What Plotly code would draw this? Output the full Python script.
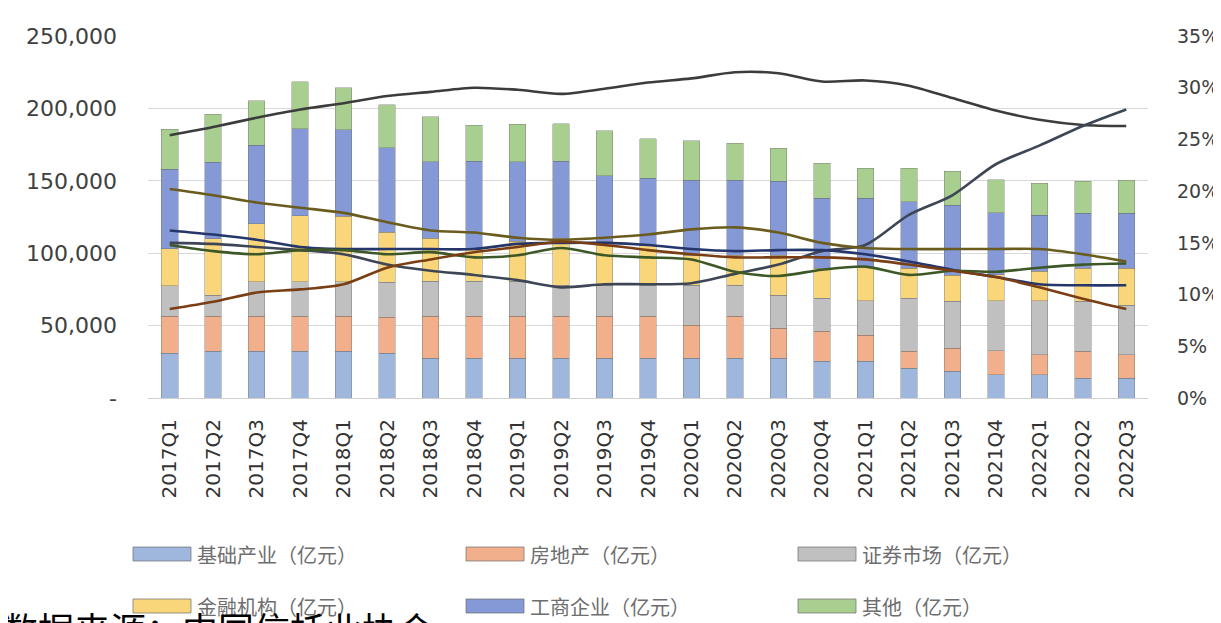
import plotly.graph_objects as go

quarters = ["2017Q1","2017Q2","2017Q3","2017Q4","2018Q1","2018Q2","2018Q3","2018Q4",
            "2019Q1","2019Q2","2019Q3","2019Q4","2020Q1","2020Q2","2020Q3","2020Q4",
            "2021Q1","2021Q2","2021Q3","2021Q4","2022Q1","2022Q2","2022Q3"]

# stacked bars (亿元)
infra   = [31000,32400,32400,32400,32400,31000,27600,27600,27600,27600,27600,27600,27600,27600,27600,25500,25500,20700,18600,15900,15900,13800,13800]
realest = [25500,24000,24000,24000,24000,24800,29000,29000,29000,29000,29000,29000,22800,29000,20700,20700,18000,11700,15900,16600,13800,18600,15900]
secur   = [21000,14500,24000,24000,24000,24000,24000,24000,24000,21400,21400,21400,27600,21400,22800,22800,23500,36600,32400,34500,37300,34500,34500]
finance = [25500,39000,40000,45500,45000,34500,29700,22800,27600,32400,30000,27600,20700,20700,27600,20700,22800,20700,18000,18000,20700,22800,25500]
commerce= [55000,53000,54000,60000,60000,58600,53000,60000,55000,53000,45500,46000,51800,51800,51000,48300,48300,46000,48300,42800,38600,38000,38000]
others  = [27600,33000,31000,32400,29000,29700,31000,24800,26000,26000,31000,27600,27000,25500,22800,24000,20700,22800,23500,22800,22000,22000,22800]

bar_names = ["基础产业（亿元）","房地产（亿元）","证券市场（亿元）","金融机构（亿元）","工商企业（亿元）","其他（亿元）"]
bar_values = [infra, realest, secur, finance, commerce, others]
bar_colors = ["#9FB7DD","#F1B08B","#C0C0C0","#F9D67A","#8499D6","#A9CF90"]

# shares (%) on secondary axis
share_a = [25.4,26.2,27.1,27.9,28.5,29.2,29.6,30.0,29.8,29.4,29.9,30.5,30.9,31.5,31.4,30.6,30.7,30.2,29.0,27.8,26.9,26.4,26.3]
share_b = [15.0,14.9,14.6,14.3,13.9,12.9,12.3,11.9,11.4,10.7,11.0,11.0,11.1,12.0,12.9,14.2,14.8,17.7,19.6,22.6,24.4,26.3,27.9]
share_c = [20.2,19.6,18.9,18.4,17.9,17.0,16.2,16.0,15.5,15.3,15.5,15.8,16.3,16.5,16.0,15.0,14.5,14.4,14.4,14.4,14.4,13.9,13.2]
share_d = [16.2,15.8,15.3,14.6,14.4,14.4,14.4,14.4,14.9,15.0,15.0,14.8,14.4,14.2,14.3,14.3,13.9,13.2,12.4,11.7,11.0,10.9,10.9]
share_e = [14.8,14.2,13.9,14.3,14.3,13.9,14.1,13.6,13.8,14.5,13.8,13.6,13.4,12.2,11.8,12.4,12.7,11.9,12.3,12.2,12.6,12.9,13.0]
share_f = [8.6,9.3,10.2,10.5,11.0,12.6,13.4,14.1,14.6,15.1,14.8,14.3,13.9,13.6,13.6,13.6,13.4,12.9,12.3,11.7,10.7,9.6,8.6]

line_values = [share_a, share_b, share_c, share_d, share_e, share_f]
line_colors = ["#3C3C3C","#3E4656","#6A5C1E","#24366A","#3D5826","#7A3E14"]

left_ticks = [0, 50000, 100000, 150000, 200000, 250000]
left_text = ["-", "50,000", "100,000", "150,000", "200,000", "250,000"]
right_ticks = [0, 5, 10, 15, 20, 25, 30, 35]
right_text = [f"{v}%" for v in right_ticks]

fig = go.Figure()
for name, vals, col in zip(bar_names, bar_values, bar_colors):
    fig.add_trace(go.Bar(x=quarters, y=vals, name=name, marker_color=col,
                         marker_line=dict(width=0.8, color="rgba(110,110,110,0.5)"),
                         showlegend=False))
for vals, col in zip(line_values, line_colors):
    fig.add_trace(go.Scatter(x=quarters, y=vals, yaxis="y2", mode="lines",
                             line=dict(color=col, width=2.6, shape="spline", smoothing=0.8),
                             showlegend=False))

# geometry helpers (pixels -> paper)
L, R, T, B = 140, 1140, 28, 390
W, H = R - L, B - T
px = lambda v: (v - L) / W
py = lambda v: (B - v) / H

shapes, annotations = [], []
col_x = [125, 458, 790]
row_y = [546, 598]
for i, (name, col) in enumerate(zip(bar_names, bar_colors)):
    cx = col_x[i % 3]
    cy = row_y[i // 3]
    shapes.append(dict(type="rect", xref="paper", yref="paper",
                       x0=px(cx), x1=px(cx + 58), y0=py(cy + 7), y1=py(cy - 7),
                       fillcolor=col, line=dict(color="rgba(110,110,110,0.7)", width=1)))
    annotations.append(dict(text=name, xref="paper", yref="paper", x=px(cx + 62), y=py(cy),
                            xanchor="left", yanchor="middle", showarrow=False,
                            font=dict(family="Noto Sans CJK SC", size=20, color="#6E6E6E")))

annotations.append(dict(text="数据来源：中国信托业协会", xref="paper", yref="paper",
                        x=px(-8), y=py(592), xanchor="left", yanchor="top", showarrow=False,
                        font=dict(family="Noto Sans CJK SC", size=36, color="#000000")))

fig.update_layout(
    width=1221, height=623,
    margin=dict(l=L, r=1221 - R, t=T, b=623 - B, autoexpand=False),
    paper_bgcolor="white", plot_bgcolor="white",
    barmode="stack", bargap=0.62,
    font=dict(family="DejaVu Sans", color="#404040"),
    xaxis=dict(type="category", tickangle=-90, tickfont=dict(size=20, color="#333333"),
               showgrid=False, showline=True, linecolor="#D0D0D0", ticks="",
               ticklabelstandoff=12),
    yaxis=dict(range=[0, 250000], tickvals=left_ticks, ticktext=left_text,
               tickfont=dict(size=22, color="#404040"), showgrid=True, gridcolor="#D9D9D9",
               zeroline=False, ticks="", ticklabelstandoff=30),
    yaxis2=dict(range=[0, 35], overlaying="y", side="right", tickvals=right_ticks,
                ticktext=right_text, tickfont=dict(size=19, color="#404040"),
                showgrid=False, zeroline=False, ticks="", ticklabelstandoff=28),
    shapes=shapes, annotations=annotations,
)

fig.write_html("out.html")
